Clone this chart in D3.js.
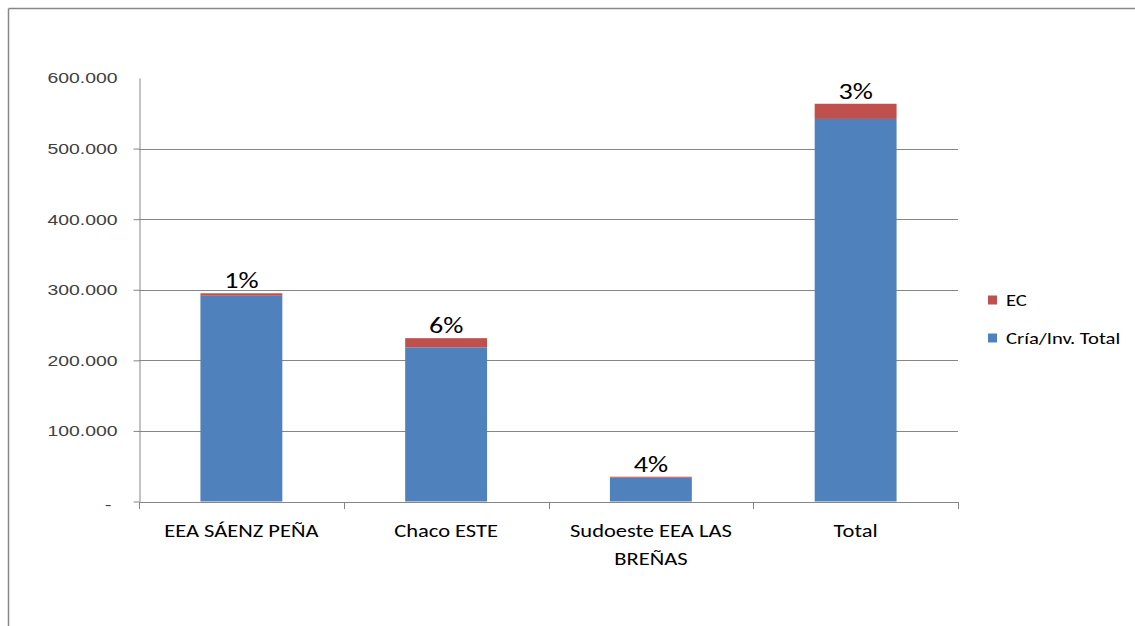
<!DOCTYPE html>
<html><head><meta charset="utf-8">
<script src="https://cdn.jsdelivr.net/npm/d3@7"></script>
<style>
html,body{margin:0;padding:0;background:#fff;}
svg{display:block;font-family:Calibri,Carlito,Lato,"Open Sans",sans-serif;}
</style></head>
<body><svg id="c" width="1135" height="626"></svg>
<script>
const categories = [["EEA SÁENZ PEÑA"], ["Chaco ESTE"], ["Sudoeste EEA LAS", "BREÑAS"], ["Total"]];
const criaValues = [291500, 218400, 33700, 542000];
const ecValues = [3500, 13000, 1400, 21500];
const pctLabels = ["1%", "6%", "4%", "3%"];
const yTicks = [0, 100000, 200000, 300000, 400000, 500000, 600000];
const seriesNames = ["EC", "Cría/Inv. Total"];
const colors = {cria: "#4F81BD", ec: "#C0504D"};

(function(){
const SX = 1.25; // horizontal stretch of the original rendering
const svg = d3.select("#c");
// outer frame
svg.append("line").attr("x1",8.5).attr("x2",1135).attr("y1",8.5).attr("y2",8.5).attr("stroke","#888").attr("stroke-width",1.5);
svg.append("line").attr("x1",8.5).attr("x2",8.5).attr("y1",8.5).attr("y2",626).attr("stroke","#888").attr("stroke-width",1.5);

const pLeft = 139, pRight = 958, pTop = 78, pBottom = 501.5;
const x = d3.scaleBand().domain(d3.range(categories.length)).range([pLeft, pRight]).paddingInner(0.6).paddingOuter(0.3);
const xb = d3.scaleBand().domain(d3.range(categories.length)).range([pLeft, pRight]);
const y = d3.scaleLinear().domain([0, 600000]).range([pBottom, pTop]);

// gridlines
svg.append("g").selectAll("line").data(yTicks.filter(d => d > 0 && d < 600000)).join("line")
  .attr("x1", pLeft).attr("x2", pRight)
  .attr("y1", d => Math.round(y(d)) + 0.5).attr("y2", d => Math.round(y(d)) + 0.5)
  .attr("stroke", "#868686").attr("stroke-width", 1);

// y axis
const fmt = d => d === 0 ? "-" : d3.format(",")(d).replace(/,/g, ".");
const yAxis = svg.append("g").attr("transform", `translate(${pLeft + 0.5},0)`)
  .call(d3.axisLeft(y).tickValues(yTicks).tickFormat(fmt).tickSize(6).tickSizeOuter(0));
yAxis.select(".domain").attr("stroke", "#868686");
yAxis.selectAll(".tick line").attr("stroke", "#868686");
yAxis.selectAll(".tick text").attr("x", 0).attr("fill", "#404040").style("font-size", "15.5px")
  .attr("dy", d => d === 0 ? "0.5em" : "0.32em")
  .attr("transform", d => `translate(${d === 0 ? -28 : -22},0) scale(${SX},1)`);
yAxis.selectAll(".tick").filter(d => d === 600000).select("line").remove();

// bars
const g = svg.append("g");
g.selectAll("rect.cria").data(criaValues).join("rect").attr("class", "cria")
  .attr("x", (d, i) => x(i)).attr("width", x.bandwidth())
  .attr("y", d => y(d)).attr("height", d => y(0) - y(d)).attr("fill", colors.cria);
g.selectAll("rect.ec").data(ecValues).join("rect").attr("class", "ec")
  .attr("x", (d, i) => x(i)).attr("width", x.bandwidth())
  .attr("y", (d, i) => y(d + criaValues[i])).attr("height", (d, i) => y(criaValues[i]) - y(d + criaValues[i]))
  .attr("fill", colors.ec);

// x axis
const xa = svg.append("g");
xa.append("line").attr("x1", pLeft).attr("x2", pRight).attr("y1", Math.round(pBottom)+0.5).attr("y2", Math.round(pBottom)+0.5).attr("stroke", "#868686");
const bounds = d3.range(categories.length + 1).map(i => pLeft + i * xb.step());
xa.selectAll("line.tk").data(bounds).join("line").attr("class", "tk")
  .attr("x1", d => Math.round(d) + 0.5).attr("x2", d => Math.round(d) + 0.5)
  .attr("y1", Math.round(pBottom)).attr("y2", Math.round(pBottom) + 7).attr("stroke", "#868686");
categories.forEach((lines, i) => {
  lines.forEach((l, j) => {
    xa.append("text").attr("transform", `translate(${x(i) + x.bandwidth() / 2},${537 + j * 28}) scale(${SX},1)`)
      .attr("text-anchor", "middle").attr("fill", "#000").style("font-size", "18px").text(l);
  });
});

// percentage labels
g.selectAll("text.pct").data(pctLabels).join("text").attr("class", "pct")
  .attr("transform", (d, i) => `translate(${x(i) + x.bandwidth() / 2},${y(criaValues[i] + ecValues[i]) - 5}) scale(${SX},1)`)
  .attr("text-anchor", "middle").style("font-size", "22.5px").attr("fill", "#000").text(d => d);

// legend
const leg = svg.append("g");
const legItems = [{n: seriesNames[0], c: colors.ec, y: 300}, {n: seriesNames[1], c: colors.cria, y: 338}];
legItems.forEach(it => {
  leg.append("rect").attr("x", 988).attr("y", it.y - 4.5).attr("width", 9).attr("height", 9).attr("fill", it.c);
  leg.append("text").attr("transform", `translate(1006,${it.y}) scale(${SX},1)`).attr("dy", "0.35em")
    .style("font-size", "16.5px").attr("fill", "#000").text(it.n);
});
})();
</script></body></html>
